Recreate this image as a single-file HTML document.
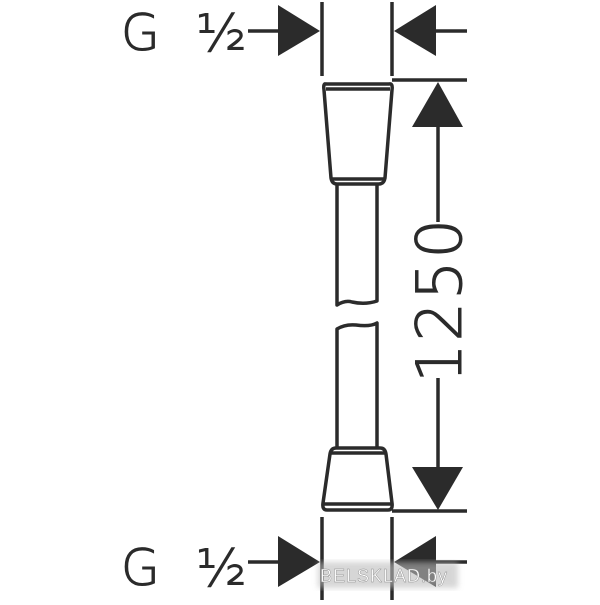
<!DOCTYPE html>
<html><head><style>
html,body{margin:0;padding:0;background:#fff;}
</style></head><body>
<svg width="600" height="600" viewBox="0 0 600 600" xmlns="http://www.w3.org/2000/svg">
<defs><filter id="b"><feGaussianBlur stdDeviation="3"/></filter></defs>
<g fill="none" stroke="#2b2b2b" stroke-width="3.5" stroke-linejoin="round">
<line x1="248" y1="31" x2="285" y2="31"/>
<line x1="322" y1="2" x2="322" y2="76"/>
<line x1="392" y1="2" x2="392" y2="76"/>
<line x1="430" y1="31" x2="467" y2="31"/>
<line x1="392" y1="80" x2="467" y2="80"/>
<line x1="438" y1="120" x2="438" y2="222"/>
<line x1="438" y1="378" x2="438" y2="470"/>
<line x1="392" y1="511" x2="467" y2="511"/>
<line x1="248" y1="562" x2="285" y2="562"/>
<line x1="322" y1="517" x2="322" y2="600"/>
<line x1="392" y1="517" x2="392" y2="600"/>
<line x1="430" y1="562" x2="467" y2="562"/>
<path d="M326 84 Q323 83 324 90 L331 178 Q332 184 337 184 L379 184 Q384 184 385 178 L392 90 Q393 83 389 84 Z"/>
<line x1="326" y1="89" x2="390" y2="89"/>
<line x1="331" y1="179" x2="385" y2="179"/>
<path d="M337 184 L337 305 Q345 300 352 302 Q365 305 377 301 L377 184"/>
<path d="M337 448 L337 329 Q345 324 356 325 Q370 327 377 323 L377 448"/>
<path d="M336 448 Q331 448 330 454 L323 503 Q322 510 327 510 L388 510 Q393 510 392 503 L386 454 Q385 448 380 448 Z"/>
<line x1="331" y1="453" x2="385" y2="453"/>
<line x1="324" y1="504" x2="392" y2="504"/>
</g>
<g fill="#2b2b2b">
<polygon points="278,5 320,31 278,56"/>
<polygon points="436,5 394,31 436,56"/>
<polygon points="438,82 412,127 463,127"/>
<polygon points="438,510 412,467 463,467"/>
<polygon points="278,536 320,562 278,587"/>
<polygon points="436,536 394,562 436,587"/>
</g>
<g font-family="DejaVu Sans, Liberation Sans, sans-serif" fill="#2b2b2b" stroke="#2b2b2b" stroke-width="1" font-weight="200">
<text x="121" y="50" font-size="50">G</text>
<text x="196" y="51" font-size="52">½</text>
<text x="121" y="585" font-size="50">G</text>
<text x="196" y="586" font-size="52">½</text>
<text transform="translate(461,300) rotate(-90)" text-anchor="middle" font-size="62" letter-spacing="2">1250</text>
</g>
<rect x="318" y="562" width="140" height="26" fill="#bbb" filter="url(#b)" opacity="0.6"/>
<text x="320" y="582" font-family="Liberation Sans, sans-serif" font-size="18" fill="#fff" stroke="#888" stroke-width="0.4" letter-spacing="1">BELSKLAD.by</text>
</svg>
</body></html>
